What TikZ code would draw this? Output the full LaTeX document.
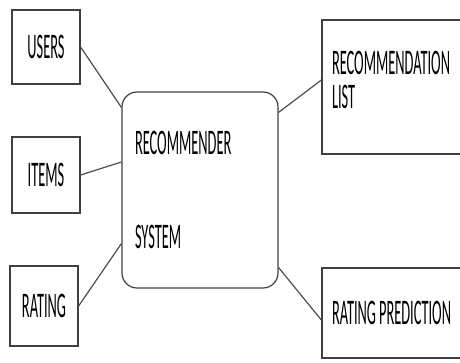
\documentclass[tikz,border=0pt]{standalone}
\usepackage{fontspec}
\setmainfont[FakeStretch=0.40]{Carlito}
\newcommand{\boxfont}{\fontsize{36}{44}\selectfont}
\newcommand{\tightspace}{\spaceskip 3pt\relax}

\begin{document}
\begin{tikzpicture}[x=1pt,y=1pt]

  \tikzset{
    box/.style={draw=black!75, line width=1.2pt, rectangle, inner sep=0pt,
      font=\boxfont},
    textbox/.style={box, align=left, inner xsep=10pt, text width=128pt},
    link/.style={draw=black!70, line width=1.2pt},
  }

  \useasboundingbox (0,0) rectangle (460,362);
  \clip (0,0) rectangle (460,362);

  \node[box, minimum width=68pt, minimum height=74pt] (users) at (46,315) {USERS};
  \node[box, minimum width=68pt, minimum height=76pt] (items) at (46,187) {ITEMS};
  \node[box, minimum width=68pt, minimum height=80pt] (rating) at (44,56) {RATING};

  \node[box, rounded corners=15pt, align=left, inner xsep=13pt, text width=130pt,
    minimum height=196pt] (sys) at (200,172) {RECOMMENDER\\[50pt]SYSTEM};

  \node[textbox, minimum height=134pt] (list) at (396,275)
    {RECOMMENDATION\\[-10pt]LIST\\[-30pt]\mbox{}};
  \node[textbox, minimum height=90pt] (pred) at (396,49)
    {\tightspace RATING PREDICTION};

  \draw[link] (users.east) -- ([yshift=-16pt]sys.north west);
  \draw[link] (items.east) -- ([yshift=28pt]sys.west);
  \draw[link] (rating.east) -- ([yshift=45pt]sys.south west);
  \draw[link] ([yshift=-21pt]sys.north east) -- ([yshift=7pt]list.west);
  \draw[link] ([yshift=21pt]sys.south east) -- ([yshift=-7pt]pred.west);
\end{tikzpicture}
\end{document}
